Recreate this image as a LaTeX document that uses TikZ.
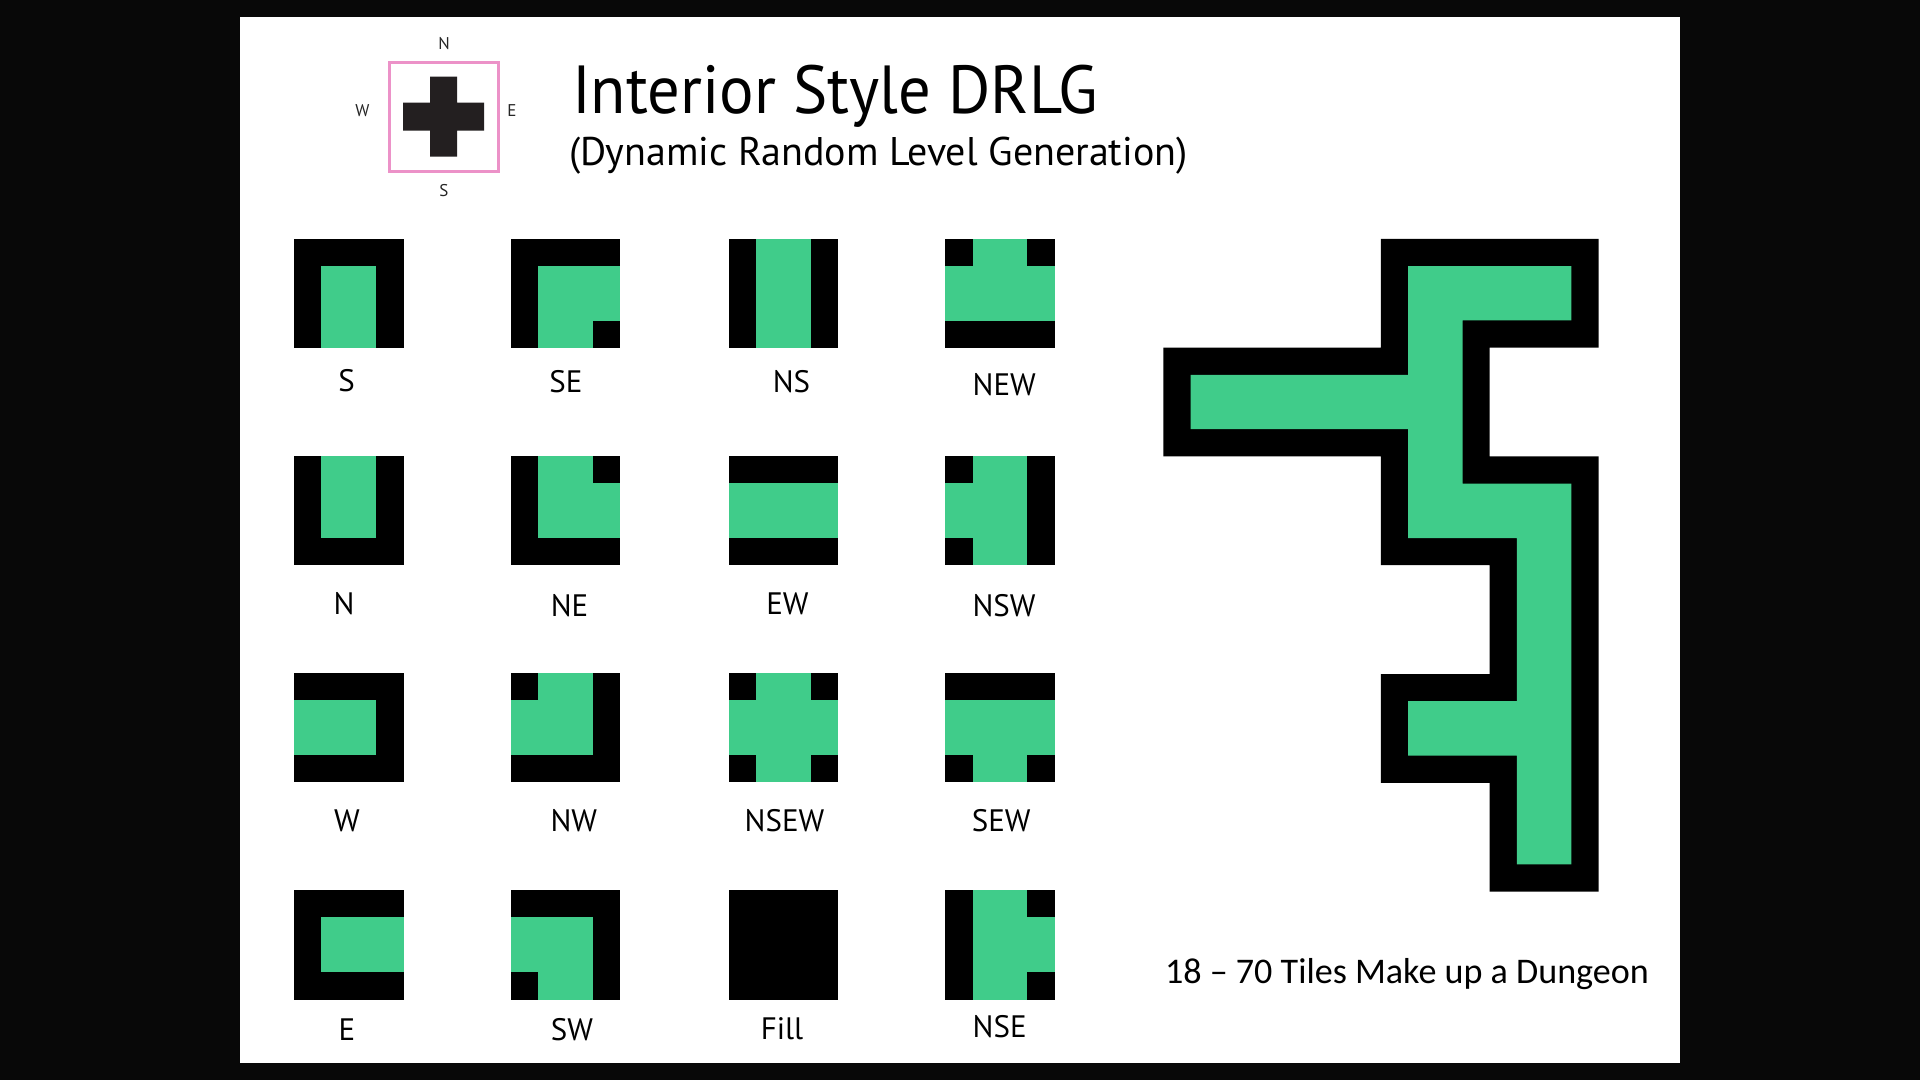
\documentclass[tikz,border=0pt]{standalone}
\usepackage{fontspec}
\setmainfont{PT Sans}
\newfontfamily\headfont[FakeStretch=0.95]{PT Sans}
\newfontfamily\capfont{Carlito}
\usetikzlibrary{positioning}

\definecolor{floorgreen}{RGB}{64,204,138}
\definecolor{compasspink}{RGB}{236,146,200}
\definecolor{backdrop}{RGB}{8,8,8}
\definecolor{crossink}{RGB}{35,31,32}

\begin{document}
\begin{tikzpicture}[
  x=1pt, y=-1pt,
  every node/.style={inner sep=0pt, outer sep=0pt},
  tile/.style={rectangle, fill=black, minimum size=109.5pt, anchor=north west},
  floor/.style={fill=floorgreen},
  tilename/.style={font=\fontsize{31}{31}\selectfont},
  compassletter/.style={font=\fontsize{17}{17}\selectfont, text=black!85}
]
% backdrop and sheet
\useasboundingbox (0,0) rectangle (1920,1080);
\fill[backdrop] (0,0) rectangle (1920,1080);
\fill[white] (240,17) rectangle (1680,1063);

% compass
\node[draw=compasspink, line width=3pt, minimum width=109pt, minimum height=109pt] (compass) at (443.6,116.7) {};
\begin{scope}[shift={(compass.center)}]
  \fill[crossink] (-13.5,-40) -- (13.5,-40) -- (13.5,-14) -- (40.5,-14) -- (40.5,14) -- (13.5,14)
    -- (13.5,40) -- (-13.5,40) -- (-13.5,14) -- (-40.5,14) -- (-40.5,-14) -- (-13.5,-14) -- cycle;
\end{scope}
\node[compassletter] (cN) at (444,43.3) {N};
\node[compassletter] (cS) at (444,191) {S};
\node[compassletter] (cW) at (362.5,110.5) {W};
\node[compassletter] (cE) at (512,111) {E};

% heading
\node[anchor=base west, font=\headfont\fontsize{68}{68}\selectfont] (title) at (572,113.3) {Interior Style DRLG};
\node[anchor=base west, font=\fontsize{40}{40}\selectfont] (subtitle) at (569,165.5) {(Dynamic Random Level Generation)};

% tile set: name / corner / centre / N S E W / label
\foreach \lbl/\px/\py/\cen/\dn/\ds/\de/\dw/\lx/\ly in {
  S/294/238.5/1/0/1/0/0/346.5/381,
  SE/510.6/238.5/1/0/1/1/0/566/382,
  NS/728.6/238.5/1/1/1/0/0/791.5/382,
  NEW/945.3/238.5/1/1/0/1/1/1004.3/384.5,
  N/294/455.5/1/1/0/0/0/344/604,
  NE/510.6/455.5/1/1/0/1/0/569.5/606,
  EW/728.6/455.5/1/0/0/1/1/787.4/603.5,
  NSW/945.3/455.5/1/1/1/0/1/1004/606,
  W/294/672.5/1/0/0/0/1/347/820.4,
  NW/510.6/672.5/1/1/0/0/1/573.8/820.4,
  NSEW/728.6/672.5/1/1/1/1/1/784.5/820.4,
  SEW/945.3/672.5/1/0/1/1/1/1001.2/821,
  E/294/890/1/0/0/1/0/347/1029.5,
  SW/510.6/890/1/0/1/0/1/572/1030,
  Fill/728.6/890/0/0/0/0/0/782/1028.6,
  NSE/945.3/890/1/1/1/1/0/999.7/1027}{
  \node[tile] (t\lbl) at (\px,\py) {};
  \begin{scope}[shift={(t\lbl.north west)}, x=27.375pt, y=-27.375pt]
    \ifnum\cen=1 \fill[floor] (1,1) rectangle (3,3); \fi
    \ifnum\dn=1 \fill[floor] (1,0) rectangle (3,2); \fi
    \ifnum\ds=1 \fill[floor] (1,2) rectangle (3,4); \fi
    \ifnum\de=1 \fill[floor] (2,1) rectangle (4,3); \fi
    \ifnum\dw=1 \fill[floor] (0,1) rectangle (2,3); \fi
  \end{scope}
  \node[tilename] (l\lbl) at (\lx,\ly) {\lbl};
}

% sample dungeon
\begin{scope}[shift={(1163.3,238.8)}, x=27.2pt, y=-27.2pt]
  \fill[black] (8,0) -- (16,0) -- (16,4) -- (12,4) -- (12,8) -- (16,8) -- (16,24) -- (12,24)
    -- (12,20) -- (8,20) -- (8,16) -- (12,16) -- (12,12) -- (8,12) -- (8,8) -- (0,8) -- (0,4) -- (8,4) -- cycle;
  \fill[floor] (9,1) -- (15,1) -- (15,3) -- (11,3) -- (11,9) -- (15,9) -- (15,23) -- (13,23)
    -- (13,19) -- (9,19) -- (9,17) -- (13,17) -- (13,11) -- (9,11) -- (9,7) -- (1,7) -- (1,5) -- (9,5) -- cycle;
\end{scope}

\node[anchor=base west, font=\capfont\fontsize{36.1}{36.1}\selectfont] (caption) at (1165,983.3) {18 \textendash{} 70 Tiles Make up a Dungeon};
\end{tikzpicture}
\end{document}
